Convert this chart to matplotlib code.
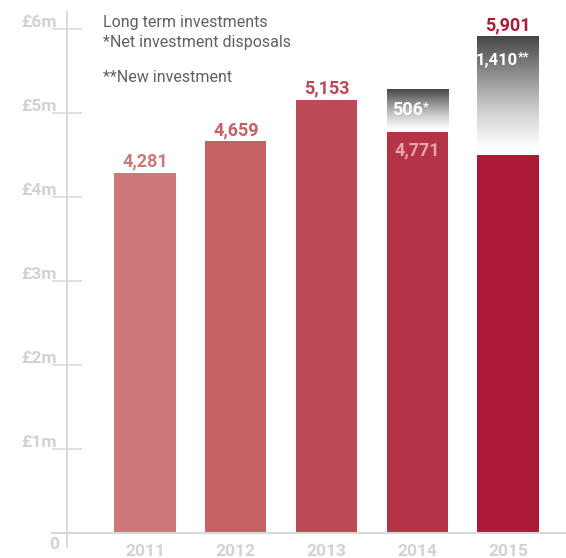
import numpy as np
import matplotlib.pyplot as plt
from matplotlib.colors import LinearSegmentedColormap

years = ['2011', '2012', '2013', '2014', '2015']
long_term = [4281, 4659, 5153, 4771, 4491]          # £k, red part
other = [0, 0, 0, 506, 1410]                        # £k, grey part
other_marks = ['', '', '', '*', '**']
y_ticks = [1, 2, 3, 4, 5, 6]

bar_colors = ['#CD7778', '#C56164', '#BC4A56', '#B43346', '#AD1A38']
grey_txt = '#D2D2D2'
axis_col = '#D8D8D8'

plt.rcParams['font.family'] = ['Roboto', 'DejaVu Sans']

fig = plt.figure(figsize=(5.66, 5.58), dpi=100)
ax = fig.add_axes([66.7 / 566, 25.3 / 558, 499.3 / 566, 504 / 558])

x = np.arange(len(years))
w = 0.677
lt = np.array(long_term) / 1000
ot = np.array(other) / 1000

ax.bar(x, lt, width=w, color=bar_colors, zorder=2)

# grey gradient blocks on top
cmap = LinearSegmentedColormap.from_list('g', ['#FFFFFF', '#CFCFD0', '#8E8D8F', '#47464A'])
t = np.linspace(0, 1, 256)
grad = np.clip((t - 0.06) / 0.94, 0, 1)[:, None]
for i in range(len(years)):
    if ot[i] > 0:
        ax.imshow(grad, extent=[x[i] - w / 2, x[i] + w / 2, lt[i], lt[i] + ot[i]],
                  origin='lower', aspect='auto', cmap=cmap, vmin=0, vmax=1, zorder=2)

ax.set_xlim(-0.863, 4.639)
ax.set_ylim(0, 6)

for s in ax.spines.values():
    s.set_visible(False)

# axis lines
ax.plot([0, 0], [-0.17, 6.2], transform=ax.get_yaxis_transform(), color=axis_col,
        lw=1.3, clip_on=False, zorder=1)
ax.plot([-0.03, 1], [0, 0], transform=ax.get_yaxis_transform(), color=axis_col,
        lw=1.5, clip_on=False, zorder=3)

ax.set_xticks([])
ax.set_yticks(y_ticks)
ax.set_yticklabels([])
ax.tick_params(axis='y', direction='inout', length=22, width=1.1, color=axis_col)

for v in y_ticks:
    ax.annotate(f'£{v}m', (-0.02, v), xycoords=ax.get_yaxis_transform(),
                xytext=(0, 1.5), textcoords='offset points', ha='right', va='baseline',
                fontsize=12.5, fontweight='bold', color=grey_txt)
ax.text(-0.0254, -0.146, '0', transform=ax.get_yaxis_transform(), ha='center', va='center',
        fontsize=12.5, fontweight='bold', color=grey_txt)

for i, yr in enumerate(years):
    ax.text(x[i], -0.13, yr, ha='center', va='top', fontsize=12.5, fontweight='bold',
            color=grey_txt, clip_on=False)

# value labels
for i in range(len(years)):
    top = lt[i] + ot[i]
    if ot[i] == 0:
        ax.annotate(f'{long_term[i]:,}', (x[i], top), xytext=(0, 4.5), textcoords='offset points',
                    ha='center', va='baseline', fontsize=13, fontweight='bold', color=bar_colors[i])
        continue
    total = long_term[i] + other[i]
    if i == 4:
        ax.annotate(f'{total:,}', (x[i], top), xytext=(0, 5), textcoords='offset points',
                    ha='center', va='baseline', fontsize=13, fontweight='bold',
                    color=bar_colors[i], annotation_clip=False)
        fs, dx, dy = 12, 7.0, -20.5
    else:
        ax.annotate(f'{long_term[i]:,}', (x[i], lt[i]), xytext=(0, -17), textcoords='offset points',
                    ha='center', va='baseline', fontsize=13, fontweight='bold', color='#E9A3AD')
        fs, dx, dy = 13, 4.0, -18.5
    ax.annotate(f'{other[i]:,}', (x[i], top), xytext=(dx, dy), textcoords='offset points',
                ha='right', va='baseline', fontsize=fs, fontweight='bold', color='white', zorder=4)
    ax.annotate(other_marks[i], (x[i], top), xytext=(dx + 0.3, dy + 3.5), textcoords='offset points',
                ha='left', va='baseline', fontsize=9, fontweight='bold', color='white', zorder=4)

# legend text
legend_lines = ['Long term investments', '*Net investment disposals', '**New investment']
legend_y = [27.3, 46.7, 81.7]
for txt, yp in zip(legend_lines, legend_y):
    fig.text(102.7 / 566, 1 - yp / 558, txt, ha='left', va='baseline', fontsize=11.5, color='#606060')

fig.savefig('out.png', dpi=100)
